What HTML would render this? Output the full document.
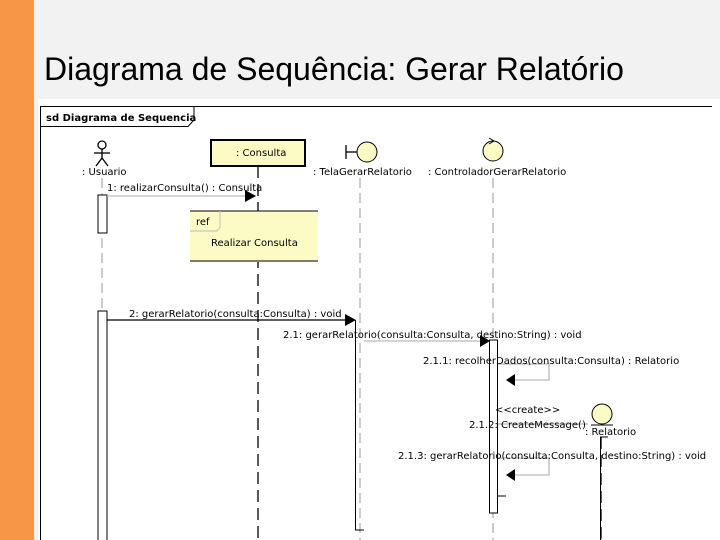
<!DOCTYPE html>
<html><head><meta charset="utf-8"><style>
html,body{margin:0;padding:0;width:720px;height:540px;overflow:hidden;background:#fff}
svg{display:block}
text{font-family:"DejaVu Sans","Liberation Sans",sans-serif;font-size:10px;fill:#000}
</style></head><body>
<svg width="720" height="540" viewBox="0 0 720 540">
<rect x="0" y="0" width="720" height="540" fill="#fff"/>
<rect x="34" y="0" width="686" height="99" fill="#f2f2f2"/>
<rect x="0" y="0" width="34" height="540" fill="#f79646"/>
<rect x="34" y="99" width="4" height="441" fill="#f2f2f2"/>
<text x="44" y="80" style="font-family:'Liberation Sans',sans-serif;font-size:32px">Diagrama de Sequência: Gerar Relatório</text>
<!-- frame -->
<path d="M40.5 540 V106.5 H712" fill="none" stroke="#000" stroke-width="1"/>
<path d="M40.5 126.5 H188 L194 120 V106.5" fill="none" stroke="#000"/>
<text x="46" y="121" style="font-weight:bold;font-size:10px">sd Diagrama de Sequencia</text>
<!-- lifelines -->
<g stroke="#bbb" stroke-dasharray="10,5" stroke-width="1.5">
<line x1="102" y1="178" x2="102" y2="540"/>
<line x1="360" y1="178" x2="360" y2="540"/>
<line x1="493" y1="178" x2="493" y2="540"/>
</g>
<line x1="258" y1="166" x2="258" y2="540" stroke="#000" stroke-dasharray="12,6" stroke-width="1.3"/>
<line x1="601" y1="437" x2="601" y2="540" stroke="#000" stroke-dasharray="12,6" stroke-width="1.3"/>
<!-- actor -->
<g stroke="#000" fill="none" stroke-width="1.3">
<circle cx="102" cy="145" r="4"/>
<line x1="102" y1="149" x2="102" y2="158"/>
<line x1="94" y1="153" x2="110" y2="153"/>
<line x1="102" y1="158" x2="96" y2="166"/>
<line x1="102" y1="158" x2="108" y2="166"/>
</g>
<text x="82" y="175">: Usuario</text>
<!-- consulta box -->
<rect x="211" y="140" width="94" height="26" fill="#fcfbc6" stroke="#000" stroke-width="2"/>
<text x="236" y="156">: Consulta</text>
<!-- tela boundary -->
<circle cx="367" cy="152" r="10" fill="#fcfbc6" stroke="#000"/>
<line x1="346" y1="145" x2="346" y2="159" stroke="#000" stroke-width="1.3"/>
<line x1="346" y1="152" x2="357" y2="152" stroke="#000" stroke-width="1.3"/>
<text x="313" y="175">: TelaGerarRelatorio</text>
<!-- controller -->
<circle cx="493" cy="151" r="10" fill="#fcfbc6" stroke="#000"/>
<path d="M489 138 L494 141 L489 144" fill="none" stroke="#000"/>
<text x="428" y="175">: ControladorGerarRelatorio</text>
<!-- activations -->
<rect x="98" y="195" width="9" height="38" fill="#fff" stroke="#000"/>
<rect x="98" y="311" width="9" height="240" fill="#fff" stroke="#000"/>
<path d="M355.5 320 V530 H364" fill="none" stroke="#000"/>
<rect x="489.5" y="340" width="8" height="173" fill="#fff" stroke="#000"/>
<line x1="497" y1="496" x2="506" y2="496" stroke="#000"/>
<path d="M600.5 540 V437 H608" fill="none" stroke="#000"/>
<!-- msg 1 -->
<line x1="107" y1="196" x2="247" y2="196" stroke="#bbb" stroke-width="1.3"/>
<polygon points="245,190 256,196 245,202" fill="#000"/>
<text x="107" y="191">1: realizarConsulta() : Consulta</text>
<!-- ref -->
<rect x="190" y="211" width="128" height="51" fill="#fcfbc6"/>
<line x1="190" y1="211" x2="318" y2="211" stroke="#000"/>
<line x1="190" y1="261" x2="318" y2="261" stroke="#000"/>
<path d="M190 231 H217 L220 227 V211" fill="none" stroke="#bbb"/>
<text x="196" y="225">ref</text>
<text x="211" y="246">Realizar Consulta</text>
<!-- msg 2 -->
<line x1="107" y1="320" x2="347" y2="320" stroke="#000" stroke-width="1.3"/>
<polygon points="345,314 356,320 345,326" fill="#000"/>
<text x="129" y="317">2: gerarRelatorio(consulta:Consulta) : void</text>
<!-- msg 2.1 -->
<line x1="364" y1="341" x2="482" y2="341" stroke="#bbb" stroke-width="1.3"/>
<polygon points="480,335 490,341 480,347" fill="#000"/>
<text x="283" y="338">2.1: gerarRelatorio(consulta:Consulta, destino:String) : void</text>
<!-- 2.1.1 -->
<path d="M498 364 H549 V380 H512" fill="none" stroke="#bbb" stroke-width="1.3"/>
<polygon points="515,374 506,380 515,386" fill="#000"/>
<text x="423" y="364">2.1.1: recolherDados(consulta:Consulta) : Relatorio</text>
<!-- create -->
<circle cx="602" cy="414" r="10" fill="#fcfbc6" stroke="#000"/>
<line x1="591" y1="425" x2="613" y2="425" stroke="#000"/>
<line x1="498" y1="424" x2="588" y2="424" stroke="#bbb" stroke-width="1.3"/>
<text x="495" y="413">&lt;&lt;create&gt;&gt;</text>
<text x="469" y="428">2.1.2: CreateMessage()</text>
<text x="585" y="435">: Relatorio</text>
<!-- 2.1.3 -->
<path d="M498 458 H549 V475 H512" fill="none" stroke="#bbb" stroke-width="1.3"/>
<polygon points="515,469 506,475 515,481" fill="#000"/>
<text x="398" y="459">2.1.3: gerarRelatorio(consulta:Consulta, destino:String) : void</text>
</svg>
</body></html>
